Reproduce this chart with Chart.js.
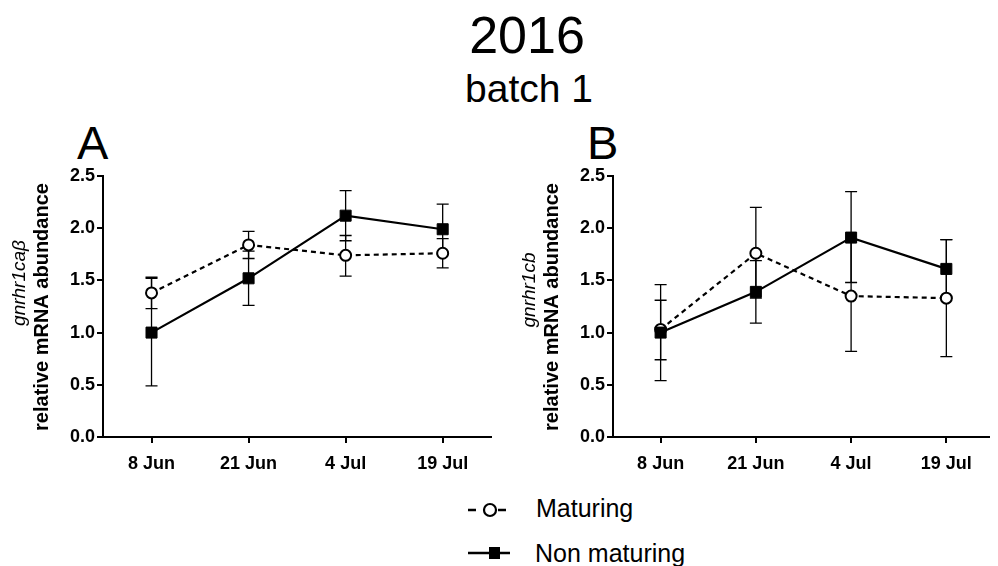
<!DOCTYPE html>
<html>
<head>
<meta charset="utf-8">
<script src="https://cdn.jsdelivr.net/npm/chart.js@4"></script>
<style>
  body { margin: 0; background: #fff; font-family: Arial, "Liberation Sans", sans-serif; }
  #page { position: relative; width: 998px; height: 566px; overflow: hidden; }
  .txt { position: absolute; line-height: 1; color: #000; white-space: nowrap; }
  canvas { position: absolute; }
</style>
</head>
<body>
<div id="page">
  <div class="txt" style="left:0;width:1054px;text-align:center;top:9px;font-size:52px;">2016</div>
  <div class="txt" style="left:0;width:1058px;text-align:center;top:69px;font-size:39px;">batch 1</div>
  <div class="txt" style="left:77px;top:119px;font-size:47px;">A</div>
  <div class="txt" style="left:587px;top:119px;font-size:47px;">B</div>

  <div style="position:absolute;left:0;top:150px;width:500px;height:330px;"><canvas id="chartA"></canvas></div>
  <div style="position:absolute;left:510px;top:150px;width:488px;height:330px;"><canvas id="chartB"></canvas></div>

  <canvas id="legendSym" width="60" height="80" style="left:460px;top:490px;"></canvas>
  <div class="txt" style="left:536px;top:496px;font-size:25px;">Maturing</div>
  <div class="txt" style="left:535px;top:541px;font-size:25px;">Non maturing</div>
</div>

<script>
// categories (sampling dates)
const dates = ['8 Jun', '21 Jun', '4 Jul', '19 Jul'];
const yTicks = [0, 0.5, 1.0, 1.5, 2.0, 2.5];

// panel A - gnrhr1caβ
const matA = [1.38, 1.84, 1.74, 1.76];
const matA_lo = [1.23, 1.71, 1.54, 1.62];
const matA_hi = [1.53, 1.97, 1.93, 1.90];
const nonA = [1.00, 1.52, 2.12, 1.99];
const nonA_lo = [0.49, 1.26, 1.88, 1.75];
const nonA_hi = [1.52, 1.78, 2.36, 2.23];

// panel B - gnrhr1cb
const matB = [1.03, 1.76, 1.35, 1.33];
const matB_lo = [0.54, 1.33, 0.82, 0.77];
const matB_hi = [1.46, 2.20, 1.87, 1.89];
const nonB = [1.00, 1.39, 1.91, 1.61];
const nonB_lo = [0.74, 1.09, 1.48, 1.33];
const nonB_hi = [1.31, 1.69, 2.35, 1.89];

const FONT = 'Arial, "Liberation Sans", sans-serif';

function pts(vals) {
    return vals.map((v, i) => ({ x: i, y: v }));
}

// draws the SEM whiskers behind the markers
const errorBars = {
    id: 'errorBars',
    beforeDatasetsDraw(chart) {
        const ctx = chart.ctx;
        const xs = chart.scales.x, ys = chart.scales.y;
        ctx.save();
        ctx.strokeStyle = '#000';
        ctx.lineWidth = 1.3;
        chart.data.datasets.forEach(ds => {
            ds.errLo.forEach((lo, i) => {
                const x = xs.getPixelForValue(i);
                const yl = ys.getPixelForValue(lo);
                const yh = ys.getPixelForValue(ds.errHi[i]);
                ctx.beginPath();
                ctx.moveTo(x, yl); ctx.lineTo(x, yh);
                ctx.moveTo(x - 6, yl); ctx.lineTo(x + 6, yl);
                ctx.moveTo(x - 6, yh); ctx.lineTo(x + 6, yh);
                ctx.stroke();
            });
        });
        ctx.restore();
    }
};

// two-line rotated y axis title (gene name in italics)
const yTitle = {
    id: 'yTitle',
    afterDraw(chart, args, opts) {
        const ctx = chart.ctx;
        ctx.save();
        ctx.fillStyle = '#000';
        ctx.textAlign = 'center';
        ctx.textBaseline = 'middle';
        ctx.translate(opts.geneX, opts.geneY);
        ctx.rotate(-Math.PI / 2);
        ctx.font = 'italic 19px ' + FONT;
        ctx.fillText(opts.gene, 0, 0);
        ctx.restore();
        ctx.save();
        ctx.fillStyle = '#000';
        ctx.textAlign = 'center';
        ctx.textBaseline = 'middle';
        ctx.translate(opts.lineX, opts.lineY);
        ctx.rotate(-Math.PI / 2);
        ctx.font = 'bold 20px ' + FONT;
        ctx.fillText('relative mRNA abundance', 0, 0);
        ctx.restore();
    }
};

function makePanel(id, mat, matLo, matHi, non, nonLo, nonHi, xMax, padRight, title) {
    return new Chart(document.getElementById(id), {
        type: 'line',
        data: {
            datasets: [{
                label: 'Non maturing',
                data: pts(non),
                errLo: nonLo,
                errHi: nonHi,
                borderColor: '#000',
                borderWidth: 2.2,
                pointStyle: 'rect',
                pointRadius: 7.8,
                pointBorderWidth: 1,
                pointBackgroundColor: '#000',
                pointBorderColor: '#000',
                tension: 0
            }, {
                label: 'Maturing',
                data: pts(mat),
                errLo: matLo,
                errHi: matHi,
                borderColor: '#000',
                borderWidth: 2.2,
                borderDash: [5, 4],
                pointStyle: 'circle',
                pointRadius: 5.5,
                pointBorderWidth: 2,
                pointBackgroundColor: '#fff',
                pointBorderColor: '#000',
                tension: 0
            }]
        },
        options: {
            responsive: true,
            maintainAspectRatio: false,
            animation: false,
            layout: { padding: { top: 26, right: padRight, left: 0, bottom: 0 } },
            plugins: {
                legend: { display: false },
                tooltip: { enabled: false },
                yTitle: title
            },
            scales: {
                x: {
                    type: 'linear',
                    min: -0.5,
                    max: xMax,
                    afterBuildTicks: s => { s.ticks = dates.map((d, i) => ({ value: i })); },
                    afterFit: s => { s.height = 43; },
                    border: { color: '#000', width: 2 },
                    grid: { drawOnChartArea: false, drawTicks: true, tickLength: 6, color: '#000', lineWidth: 2 },
                    ticks: {
                        color: '#000',
                        padding: 10,
                        maxRotation: 0,
                        font: { family: FONT, size: 18, weight: 'bold' },
                        callback: v => dates[v]
                    }
                },
                y: {
                    min: 0,
                    max: 2.5,
                    afterBuildTicks: s => { s.ticks = yTicks.map(v => ({ value: v })); },
                    afterFit: s => { s.width = 103; },
                    border: { color: '#000', width: 2 },
                    grid: { drawOnChartArea: false, drawTicks: true, tickLength: 6, color: '#000', lineWidth: 2 },
                    ticks: {
                        color: '#000',
                        padding: 2,
                        font: { family: FONT, size: 18, weight: 'bold' },
                        callback: v => v.toFixed(1)
                    }
                }
            }
        },
        plugins: [errorBars, yTitle]
    });
}

makePanel('chartA', matA, matA_lo, matA_hi, nonA, nonA_lo, nonA_hi, 3.5, 6,
    { gene: 'gnrhr1ca\u03B2', geneX: 20, geneY: 133, lineX: 42, lineY: 157 });
makePanel('chartB', matB, matB_lo, matB_hi, nonB, nonB_lo, nonB_hi, 3.45, 0,
    { gene: 'gnrhr1cb', geneX: 20, geneY: 140, lineX: 42, lineY: 157 });

// legend symbols
const lg = document.getElementById('legendSym').getContext('2d');
lg.strokeStyle = '#000';
lg.fillStyle = '#000';
lg.lineWidth = 2.5;
lg.setLineDash([8, 7]);
lg.beginPath(); lg.moveTo(8, 20); lg.lineTo(50, 20); lg.stroke();
lg.setLineDash([]);
lg.fillStyle = '#fff';
lg.lineWidth = 2.2;
lg.beginPath(); lg.arc(30, 20, 6, 0, Math.PI * 2); lg.fill(); lg.stroke();
lg.fillStyle = '#000';
lg.lineWidth = 2.5;
lg.beginPath(); lg.moveTo(8, 63); lg.lineTo(50, 63); lg.stroke();
lg.fillRect(29, 57, 11, 12);
</script>
</body>
</html>
